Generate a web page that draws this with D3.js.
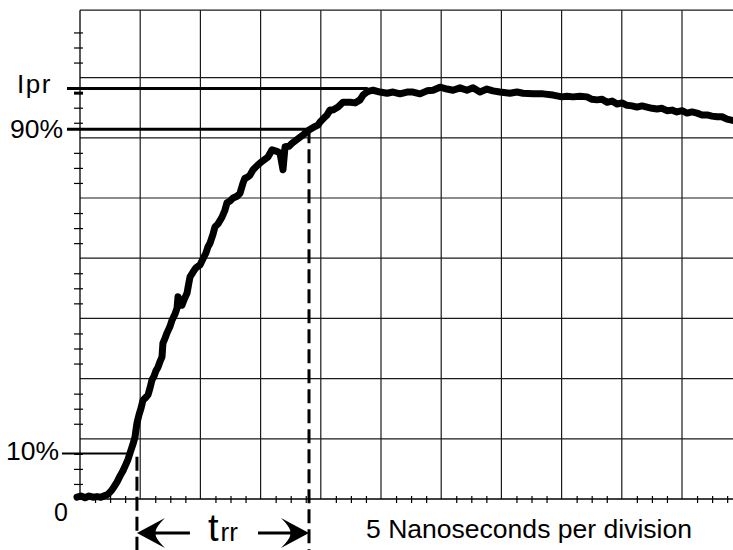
<!DOCTYPE html>
<html>
<head>
<meta charset="utf-8">
<script src="https://cdn.jsdelivr.net/npm/d3@7.9.0/dist/d3.min.js"></script>
<style>
  body { margin: 0; background: #fff; }
  svg { display: block; font-family: "Liberation Sans", Arial, sans-serif; }
</style>
</head>
<body>
<div id="viz"></div>
<script>
// trace: time in ns, current in screen divisions
const timeNs = [
  -0.25, 0.08, 0.42, 0.75, 1.08, 1.41, 1.74, 2.08, 2.33, 2.57,
  2.82, 3.07, 3.32, 3.57, 3.82, 3.99, 4.15, 4.40, 4.57, 4.65,
  4.73, 4.90, 5.07, 5.23, 5.48, 5.65, 5.81, 5.98, 6.15, 6.31,
  6.48, 6.64, 6.81, 6.89, 7.06, 7.23, 7.48, 7.64, 7.89, 8.06,
  8.14, 8.31, 8.47, 8.64, 8.89, 9.05, 9.14, 9.39, 9.63, 9.97,
  10.22, 10.47, 10.63, 10.80, 11.05, 11.21, 11.46, 11.79, 12.04, 12.21,
  12.46, 12.71, 13.04, 13.29, 13.54, 13.70, 13.95, 14.12, 14.37, 14.53,
  14.78, 14.95, 15.28, 15.61, 15.95, 16.28, 16.61, 16.86, 17.03, 17.36,
  17.61, 17.94, 18.27, 18.60, 19.02, 19.44, 19.77, 19.93, 20.27, 20.52,
  20.76, 21.01, 21.43, 21.84, 22.43, 22.84, 23.26, 23.51, 23.84, 24.09,
  24.34, 24.92, 25.50, 26.00, 26.58, 27.16, 27.66, 28.24, 28.82, 29.32,
  29.90, 30.48, 30.98, 31.56, 32.14, 32.64, 33.22, 33.80, 34.30, 34.88,
  35.71, 36.30, 36.79, 37.63, 38.46, 39.29, 40.03, 40.45, 40.95, 41.53,
  42.11, 42.52, 42.94, 43.36, 43.77, 44.19, 44.60, 45.02, 45.43, 45.85,
  46.26, 46.68, 47.09, 47.51, 47.92, 48.34, 48.75, 49.17, 49.58, 50.00,
  50.42, 50.83, 51.25, 51.66, 52.08, 52.49, 52.91, 53.32, 53.74, 54.40
];
const currentDiv = [
  0.03, 0.05, 0.02, 0.05, 0.03, 0.04, 0.03, 0.06, 0.08, 0.13,
  0.20, 0.28, 0.38, 0.47, 0.58, 0.66, 0.76, 0.91, 1.03, 1.15,
  1.26, 1.40, 1.51, 1.64, 1.69, 1.73, 1.84, 1.98, 2.04, 2.13,
  2.19, 2.28, 2.36, 2.59, 2.67, 2.76, 2.87, 2.97, 3.07, 3.17,
  3.36, 3.26, 3.22, 3.31, 3.42, 3.60, 3.69, 3.77, 3.84, 3.89,
  3.99, 4.09, 4.19, 4.25, 4.40, 4.52, 4.57, 4.68, 4.80, 4.92,
  4.95, 5.00, 5.03, 5.08, 5.25, 5.33, 5.35, 5.38, 5.47, 5.50,
  5.55, 5.58, 5.63, 5.68, 5.80, 5.78, 5.75, 5.47, 5.85, 5.86,
  5.91, 5.96, 6.01, 6.06, 6.13, 6.18, 6.21, 6.26, 6.33, 6.38,
  6.46, 6.46, 6.51, 6.59, 6.59, 6.58, 6.63, 6.71, 6.76, 6.78,
  6.79, 6.76, 6.74, 6.76, 6.73, 6.76, 6.76, 6.73, 6.78, 6.79,
  6.84, 6.81, 6.79, 6.83, 6.79, 6.83, 6.76, 6.81, 6.78, 6.76,
  6.74, 6.76, 6.74, 6.73, 6.73, 6.71, 6.68, 6.69, 6.68, 6.69,
  6.68, 6.64, 6.63, 6.64, 6.59, 6.61, 6.56, 6.58, 6.54, 6.53,
  6.51, 6.53, 6.51, 6.49, 6.48, 6.49, 6.45, 6.46, 6.43, 6.45,
  6.41, 6.43, 6.41, 6.38, 6.38, 6.36, 6.35, 6.35, 6.31, 6.28
];

// reference levels (divisions) and their labels
const levelNames = ["Ipr", "90%", "10%"];
const levelValues = [6.82, 6.14, 0.755];
const levelStartNs = [-1.08, -1.08, -1.5];
const levelEndNs = [23.9, 19.02, 4.15];

// reverse recovery markers (ns)
const trrStart = 4.73;
const trrEnd = 19.02;

const divisionsX = d3.range(5, 56, 5);
const divisionsY = d3.range(1, 8, 1);
const topDiv = 8.12;
const minorX = d3.range(0, 56, 1.25).filter(v => v % 5 !== 0);
const minorY = d3.range(0.25, 8, 0.25).filter(v => v % 1 !== 0);

const width = 733, height = 550;

const svg = d3.select("#viz")
  .append("svg")
  .attr("width", width)
  .attr("height", height);

const x = d3.scaleLinear().domain([0, 55]).range([80, 742.2]);
const y = d3.scaleLinear().domain([0, 8]).range([499, 17.4]);

// grid
const grid = svg.append("g")
  .attr("stroke", "#1a1a1a")
  .attr("stroke-width", 1.2);

grid.selectAll(".vgrid")
  .data(divisionsX)
  .join("line")
  .attr("x1", d => x(d)).attr("x2", d => x(d))
  .attr("y1", y(0)).attr("y2", y(topDiv));

grid.selectAll(".hgrid")
  .data(divisionsY.concat([topDiv]))
  .join("line")
  .attr("x1", x(0)).attr("x2", x(55))
  .attr("y1", d => y(d)).attr("y2", d => y(d));

// axes with crossing minor ticks
svg.append("g")
  .attr("transform", `translate(0,${y(0) - 3})`)
  .call(d3.axisBottom(x).tickValues(minorX).tickSize(7).tickFormat(""))
  .call(g => g.select(".domain").remove())
  .selectAll("line").attr("stroke", "#000").attr("stroke-width", 1.2);

svg.append("g")
  .attr("transform", `translate(${x(0) + 3},0)`)
  .call(d3.axisLeft(y).tickValues(minorY).tickSize(9).tickFormat(""))
  .call(g => g.select(".domain").remove())
  .selectAll("line")
  .attr("stroke", "#000")
  .attr("stroke-width", d => d === 6.75 ? 3 : 1.2);

svg.append("line")
  .attr("x1", x(0)).attr("x2", x(0))
  .attr("y1", y(0)).attr("y2", y(topDiv))
  .attr("stroke", "#000").attr("stroke-width", 1.3);

svg.append("line")
  .attr("x1", x(0)).attr("x2", x(55))
  .attr("y1", y(0)).attr("y2", y(0))
  .attr("stroke", "#000").attr("stroke-width", 1.3);

// reference level lines
svg.append("g")
  .selectAll("line")
  .data(levelValues)
  .join("line")
  .attr("x1", (d, i) => x(levelStartNs[i]))
  .attr("x2", (d, i) => x(levelEndNs[i]))
  .attr("y1", d => y(d)).attr("y2", d => y(d))
  .attr("stroke", "#000")
  .attr("stroke-width", (d, i) => i < 2 ? 3 : 2);

// trace
svg.append("path")
  .datum(timeNs.map((t, i) => [t, currentDiv[i]]))
  .attr("fill", "none")
  .attr("stroke", "#000")
  .attr("stroke-width", 7)
  .attr("stroke-linejoin", "round")
  .attr("stroke-linecap", "round")
  .attr("d", d3.line().x(d => x(d[0])).y(d => y(d[1])));

// dashed trr markers
svg.append("g")
  .selectAll("line")
  .data([[trrStart, 0.7], [trrEnd, levelValues[1]]])
  .join("line")
  .attr("x1", d => x(d[0])).attr("x2", d => x(d[0]))
  .attr("y1", d => y(d[1])).attr("y2", height)
  .attr("stroke", "#000")
  .attr("stroke-width", 3)
  .attr("stroke-dasharray", "14,6");

// arrows
const arrowY = 533;
const head = "M0,0 L28,-15 Q17,-4 19,0 Q17,4 28,15 Z";
svg.append("line")
  .attr("x1", x(trrStart) + 4).attr("x2", x(trrStart) + 53)
  .attr("y1", arrowY).attr("y2", arrowY)
  .attr("stroke", "#000").attr("stroke-width", 3);
svg.append("path")
  .attr("d", head)
  .attr("transform", `translate(${x(trrStart)},${arrowY})`);
svg.append("line")
  .attr("x1", x(trrEnd) - 51).attr("x2", x(trrEnd) - 4)
  .attr("y1", arrowY).attr("y2", arrowY)
  .attr("stroke", "#000").attr("stroke-width", 3);
svg.append("path")
  .attr("d", head)
  .attr("transform", `translate(${x(trrEnd)},${arrowY}) scale(-1,1)`);

// labels
const labelX = [17, 10, 6];
const labelY = [93, 138, 460];
svg.append("g")
  .selectAll("text")
  .data(levelNames)
  .join("text")
  .attr("x", (d, i) => labelX[i])
  .attr("y", (d, i) => labelY[i])
  .attr("font-size", (d, i) => i === 0 ? 26 : 26.5)
  .attr("letter-spacing", (d, i) => i === 0 ? 1.5 : 0)
  .text(d => d);

svg.append("text")
  .attr("x", 54).attr("y", 521)
  .attr("font-size", 25)
  .text("0");

const trrLabel = svg.append("text")
  .attr("x", 208).attr("y", 541);
trrLabel.append("tspan").attr("font-size", 38).text("t");
trrLabel.append("tspan").attr("font-size", 26).attr("dx", 2).text("rr");

svg.append("text")
  .attr("x", 366).attr("y", 538)
  .attr("font-size", 25)
  .attr("textLength", 326)
  .attr("lengthAdjust", "spacingAndGlyphs")
  .text("5 Nanoseconds per division");
</script>
</body>
</html>
